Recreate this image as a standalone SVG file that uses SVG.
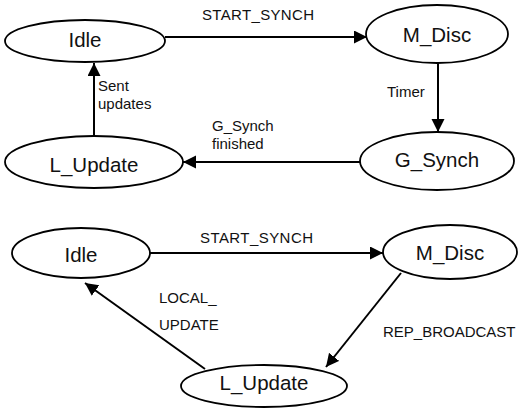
<svg xmlns="http://www.w3.org/2000/svg" width="518" height="410" viewBox="0 0 518 410">
<style>
.node ellipse{fill:#fff;stroke:#000;stroke-width:1.8}
.node text{font-family:"Liberation Sans",Arial,sans-serif;font-size:20.5px;text-anchor:middle;fill:#111}
.edge line{stroke:#000;stroke-width:2;marker-end:url(#arr)}
.lbl{font-family:"Liberation Sans",Arial,sans-serif;font-size:15px;fill:#111}
</style>
<defs>
<marker id="arr" markerUnits="userSpaceOnUse" markerWidth="14" markerHeight="14" refX="13" refY="6.5" orient="auto">
<path d="M0,0 L13,6.5 L0,13 z" fill="#000"/>
</marker>
</defs>
<rect width="518" height="410" fill="#fff"/>
<g id="connectors" class="edge">
<line x1="165" y1="37" x2="367" y2="37"/>
<line x1="438" y1="63" x2="438" y2="132"/>
<line x1="360" y1="162" x2="183" y2="162"/>
<line x1="94" y1="136" x2="94" y2="63"/>
<line x1="150" y1="253" x2="383" y2="253"/>
<line x1="401" y1="273" x2="326" y2="367"/>
<line x1="205" y1="369" x2="85" y2="283"/>
</g>
<g id="labels">
<text class="lbl" x="202" y="20" textLength="112">START_SYNCH</text>
<text class="lbl" x="387" y="97">Timer</text>
<text class="lbl" x="212" y="131">G_Synch</text>
<text class="lbl" x="212" y="149">finished</text>
<text class="lbl" x="98" y="91">Sent</text>
<text class="lbl" x="98" y="109">updates</text>
<text class="lbl" x="200" y="243" textLength="113">START_SYNCH</text>
<text class="lbl" x="159" y="303">LOCAL_</text>
<text class="lbl" x="159" y="330">UPDATE</text>
<text class="lbl" x="383" y="337">REP_BROADCAST</text>
</g>
<g id="idle1" class="node"><ellipse cx="85" cy="41" rx="80" ry="21"/><text x="85" y="47">Idle</text></g>
<g id="mdisc1" class="node"><ellipse cx="437" cy="34" rx="71" ry="29"/><text x="437" y="42">M_Disc</text></g>
<g id="gsynch1" class="node"><ellipse cx="437" cy="161" rx="77" ry="29"/><text x="437" y="167">G_Synch</text></g>
<g id="lupdate1" class="node"><ellipse cx="94" cy="162" rx="89" ry="26"/><text x="94" y="172">L_Update</text></g>
<g id="idle2" class="node"><ellipse cx="81" cy="253" rx="69" ry="25"/><text x="81" y="262">Idle</text></g>
<g id="mdisc2" class="node"><ellipse cx="450" cy="252" rx="67" ry="27"/><text x="450" y="260">M_Disc</text></g>
<g id="lupdate2" class="node"><ellipse cx="264" cy="386" rx="83" ry="21"/><text x="264" y="390">L_Update</text></g>
</svg>
